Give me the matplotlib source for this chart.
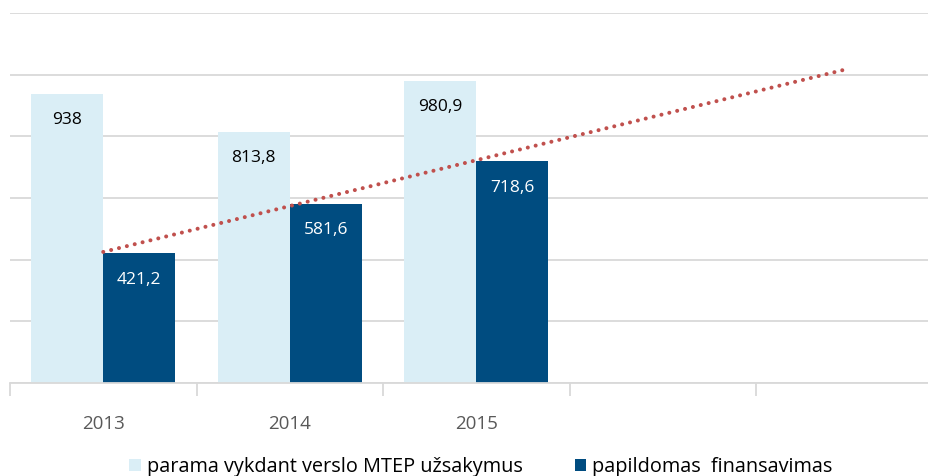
import numpy as np
import matplotlib.pyplot as plt

plt.rcParams['font.family'] = ['Open Sans', 'DejaVu Sans']

# data
years = ['2013', '2014', '2015', '', '']
mtep = [938.0, 813.8, 980.9]
papild = [421.2, 581.6, 718.6]
mtep_lbl = ['938', '813,8', '980,9']
papild_lbl = ['421,2', '581,6', '718,6']
name_mtep = 'parama vykdant verslo MTEP užsakymus'
name_papild = 'papildomas  finansavimas'

LIGHT = '#DAEEF6'
DARK = '#004C80'
RED = '#C0504D'
GRID = '#D9D9D9'

fig = plt.figure(figsize=(9.29, 4.76), dpi=100)
ax = fig.add_axes([10 / 929, 93 / 476, 932.5 / 929, 370 / 476])

x = np.arange(len(mtep))
w = 0.387
b1 = ax.bar(x - w / 2, mtep, w, color=LIGHT, zorder=2, label=name_mtep)
b2 = ax.bar(x + w / 2, papild, w, color=DARK, zorder=2, label=name_papild)

for xi, v, s in zip(x, mtep, mtep_lbl):
    ax.annotate(s, (xi - w / 2, v), xytext=(0, -19), textcoords='offset points',
                ha='center', va='center', fontsize=12.5, color='black', zorder=4)
for xi, v, s in zip(x, papild, papild_lbl):
    ax.annotate(s, (xi + w / 2, v), xytext=(0, -19), textcoords='offset points',
                ha='center', va='center', fontsize=12.5, color='white', zorder=4)

# linear trend of second series, forecast 2 periods
k, c = np.polyfit(x, papild, 1)
xt = np.array([0, len(years) - 1])
ax.plot(xt, k * xt + c, color=RED, linestyle=(0, (0.01, 2.0)), linewidth=2.9,
        dash_capstyle='round', zorder=3)

ax.set_xlim(-0.5, len(years) - 0.5)
ax.set_ylim(0, 1200)
ax.set_yticks(np.arange(0, 1201, 200))
ax.yaxis.grid(True, color=GRID, linewidth=1.3, zorder=0)
ax.set_axisbelow(True)
ax.tick_params(axis='y', left=False, labelleft=False)

ax.set_xticks(np.arange(len(years)))
ax.set_xticklabels(years, fontsize=13.5, color='#595959')
ax.set_xticks(np.arange(-0.5, len(years)), minor=True)
ax.tick_params(axis='x', which='major', length=0, pad=23)
ax.tick_params(axis='x', which='minor', length=9, width=1.3, color=GRID)

for s in ['top', 'right', 'left']:
    ax.spines[s].set_visible(False)
ax.spines['bottom'].set_color(GRID)
ax.spines['bottom'].set_linewidth(1.3)

fig.legend(handles=[b1, b2], loc='center', bbox_to_anchor=(481 / 929, 9 / 476),
           ncol=2, frameon=False, fontsize=14.3, handlelength=0.6, handleheight=0.6,
           handletextpad=0.3, columnspacing=2.6)

fig.savefig('out.png', dpi=100)
